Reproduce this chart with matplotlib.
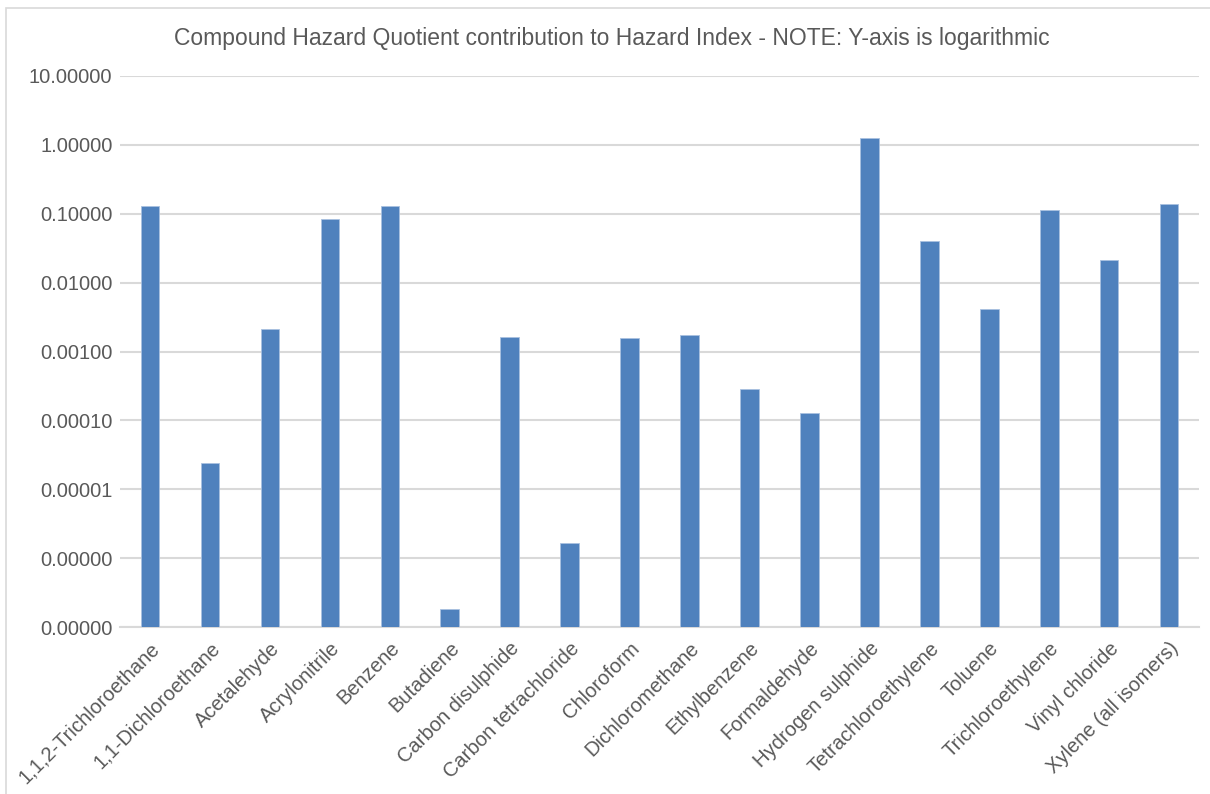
import matplotlib
matplotlib.use("Agg")
import matplotlib.pyplot as plt
from matplotlib.ticker import FixedLocator, FuncFormatter
from matplotlib.patches import Rectangle

# data
compounds = [
    "1,1,2-Trichloroethane", "1,1-Dichloroethane", "Acetalehyde", "Acrylonitrile",
    "Benzene", "Butadiene", "Carbon disulphide", "Carbon tetrachloride",
    "Chloroform", "Dichloromethane", "Ethylbenzene", "Formaldehyde",
    "Hydrogen sulphide", "Tetrachloroethylene", "Toluene", "Trichloroethylene",
    "Vinyl chloride", "Xylene (all isomers)",
]
hazard_quotient = [
    0.13, 2.4e-5, 2.15e-3, 0.085,
    0.13, 1.8e-7, 1.65e-3, 1.65e-6,
    1.55e-3, 1.76e-3, 2.9e-4, 1.3e-4,
    1.26, 0.0406, 4.2e-3, 0.114,
    0.0215, 0.14,
]
y_ticks = [1e-7, 1e-6, 1e-5, 1e-4, 1e-3, 1e-2, 1e-1, 1, 10]

title = "Compound Hazard Quotient contribution to Hazard Index - NOTE: Y-axis is logarithmic"

plt.rcParams["font.family"] = ["Liberation Sans", "DejaVu Sans"]
txt = "#595959"

fig = plt.figure(figsize=(12.1, 7.94), dpi=100)
ax = fig.add_axes([0.0992, 0.2103, 0.8918, 0.694])

x = range(len(compounds))
ax.bar(x, hazard_quotient, width=0.31, color="#4f81bd", edgecolor="#a9c1e0",
       linewidth=0.6, zorder=3)

ax.set_yscale("log")
ax.set_ylim(1e-7, 10)
ax.set_xlim(-0.5, len(compounds) - 0.5)
ax.yaxis.set_major_locator(FixedLocator(y_ticks))
ax.yaxis.set_minor_locator(FixedLocator([]))
ax.yaxis.set_major_formatter(FuncFormatter(lambda v, p: f"{v:.5f}"))
ax.grid(axis="y", color="#d9d9d9", linewidth=1.5, zorder=0)

for s in ["top", "right", "left"]:
    ax.spines[s].set_visible(False)
ax.spines["bottom"].set_color("#d9d9d9")
ax.spines["bottom"].set_linewidth(1.5)
ax.tick_params(axis="both", length=0, colors=txt)
ax.tick_params(axis="y", pad=5.5, labelsize=14.5)

ax.set_xticks(list(x))
ax.set_xticklabels(compounds, rotation=45, ha="right", va="top",
                   rotation_mode="anchor", fontsize=14.5, color=txt)
for lab in ax.get_xticklabels():
    lab.set_y(-0.012)

fig.text(0.506, 0.951, title, ha="center", va="center", fontsize=16.5, color=txt)

# chart frame
fig.patches.append(Rectangle((0.005, -0.02), 1.2, 1.01, transform=fig.transFigure,
                             fill=False, edgecolor="#d9d9d9", linewidth=1.2))

fig.savefig("out.png", dpi=100)
